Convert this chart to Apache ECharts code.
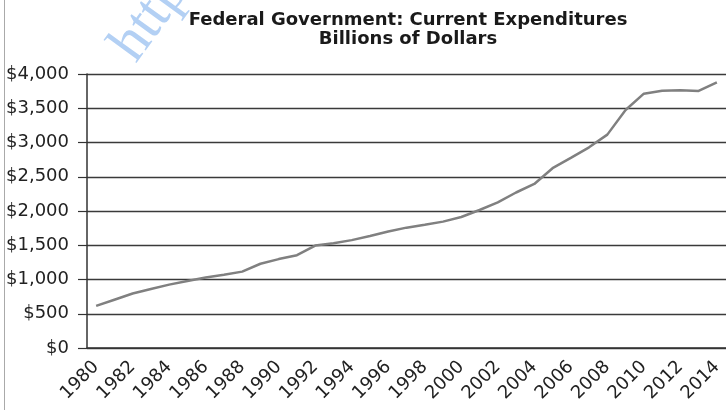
<!DOCTYPE html>
<html>
<head>
<meta charset="utf-8">
<script src="https://cdn.jsdelivr.net/npm/echarts@6/dist/echarts.min.js"></script>
<style>
  html, body { margin: 0; padding: 0; background: #fff; }
  #chart { width: 726px; height: 410px; }
</style>
</head>
<body>
<div id="chart"></div>
<script>
// years on the x axis
const years = [];
for (let y = 1980; y <= 2014; y++) years.push(String(y));

// federal current expenditures, billions of dollars
const spending = [
  615, 705, 795, 862, 925, 978, 1028, 1068, 1115, 1230,
  1298, 1355, 1495, 1530, 1575, 1635, 1700, 1757, 1800, 1845,
  1912, 2015, 2125, 2270, 2395, 2625, 2775, 2930, 3115, 3474,
  3713, 3757, 3762, 3752, 3879
];

const titleLines = ['Federal Government: Current Expenditures', 'Billions of Dollars'];

const font = 'DejaVu Sans';

const chart = echarts.init(document.getElementById('chart'));

chart.setOption({
  animation: false,
  title: {
    text: titleLines.join('\n'),
    left: 408,
    textAlign: 'center',
    top: 11,
    padding: 0,
    textStyle: {
      fontFamily: font,
      fontWeight: 'bold',
      fontSize: 18,
      lineHeight: 19,
      color: '#1a1a1a'
    }
  },
  grid: { left: 87, right: -4, top: 74, bottom: 62 },
  xAxis: {
    type: 'category',
    data: years,
    boundaryGap: true,
    axisLine: { lineStyle: { color: '#333', width: 1.5 } },
    axisTick: { interval: 0, length: 8, lineStyle: { color: '#333', width: 1.2 } },
    axisLabel: {
      interval: 1,
      rotate: 45,
      margin: 16,
      fontFamily: font,
      fontSize: 18,
      color: '#222'
    },
    splitLine: { show: false }
  },
  yAxis: {
    type: 'value',
    min: 0,
    max: 4000,
    interval: 500,
    axisLine: { show: true, lineStyle: { color: '#333', width: 1.5 } },
    axisTick: { show: true, length: 9, lineStyle: { color: '#333', width: 1.2 } },
    axisLabel: {
      margin: 18,
      fontFamily: font,
      fontSize: 18,
      color: '#222',
      formatter: v => '$' + String(v).replace(/\B(?=(\d{3})+(?!\d))/g, ',')
    },
    splitLine: { lineStyle: { color: '#3a3a3a', width: 1.3 } }
  },
  graphic: [
    {
      type: 'line',
      shape: { x1: 4.5, y1: 0, x2: 4.5, y2: 410 },
      style: { stroke: '#aaa', lineWidth: 1 }
    },
    {
      // faint watermark in the top-left corner
      type: 'text',
      x: 100,
      y: 38,
      rotation: 54 * Math.PI / 180,
      style: {
        text: 'http',
        font: '58px "Liberation Serif"',
        fill: '#b3d0f4'
      }
    }
  ],
  series: [
    {
      type: 'line',
      data: spending,
      symbol: 'none',
      smooth: false,
      lineStyle: { color: '#808080', width: 2.5 }
    }
  ]
});
</script>
</body>
</html>
